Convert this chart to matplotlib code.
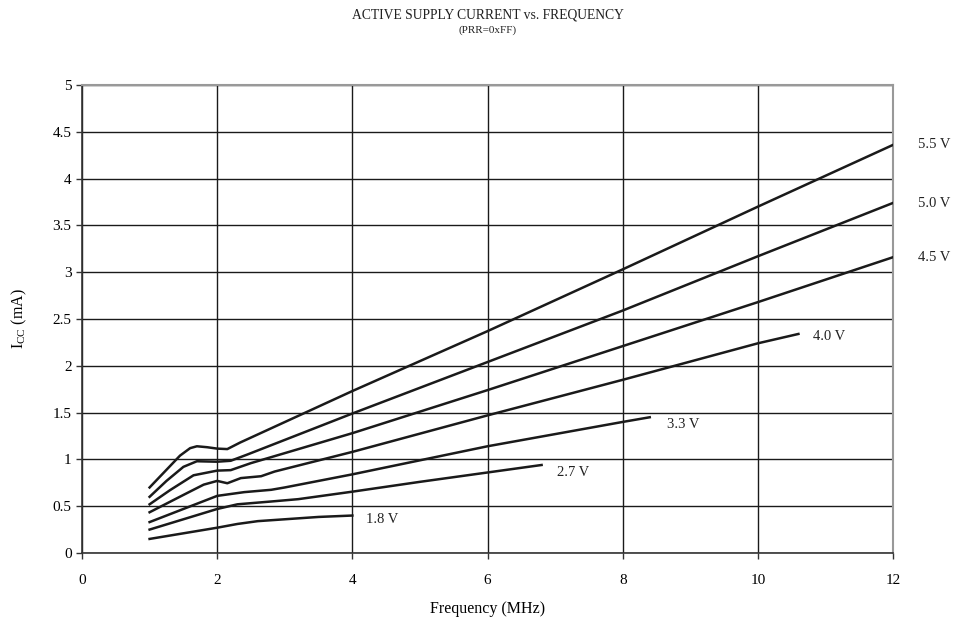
import matplotlib
matplotlib.use('Agg')
import matplotlib.pyplot as plt

plt.rcParams['font.family'] = 'Liberation Serif'
plt.rcParams['mathtext.fontset'] = 'custom'
plt.rcParams['mathtext.rm'] = 'Liberation Serif'

# frequency (MHz) / current (mA), one pair of lists per supply voltage
f_55 = [1.0, 1.45, 1.6, 1.7, 1.85, 2.0, 2.15, 2.34, 4.0, 6.0, 8.0, 10.0, 12.0]
i_55 = [0.70, 1.04, 1.12, 1.14, 1.13, 1.115, 1.11, 1.18, 1.73, 2.37, 3.03, 3.70, 4.36]

f_50 = [1.0, 1.25, 1.5, 1.7, 2.0, 2.2, 2.44, 4.0, 6.0, 8.0, 10.0, 12.0]
i_50 = [0.60, 0.77, 0.92, 0.98, 0.975, 0.985, 1.05, 1.49, 2.04, 2.59, 3.17, 3.74]

f_45 = [1.0, 1.3, 1.65, 2.0, 2.2, 2.5, 4.0, 6.0, 8.0, 10.0, 12.0]
i_45 = [0.52, 0.67, 0.83, 0.88, 0.885, 0.96, 1.28, 1.74, 2.21, 2.68, 3.16]

f_40 = [1.0, 1.5, 1.8, 2.0, 2.15, 2.35, 2.65, 2.85, 4.0, 6.0, 8.0, 10.0, 10.6]
i_40 = [0.435, 0.62, 0.73, 0.77, 0.745, 0.80, 0.82, 0.87, 1.08, 1.47, 1.85, 2.24, 2.34]

f_33 = [1.0, 1.5, 2.0, 2.4, 2.8, 3.0, 4.0, 6.0, 8.0, 8.4]
i_33 = [0.33, 0.47, 0.61, 0.65, 0.675, 0.70, 0.84, 1.14, 1.40, 1.45]

f_27 = [1.0, 1.5, 2.0, 2.3, 2.8, 3.2, 4.0, 5.0, 6.0, 6.8]
i_27 = [0.25, 0.36, 0.47, 0.52, 0.55, 0.575, 0.655, 0.76, 0.86, 0.94]

f_18 = [1.0, 1.5, 2.0, 2.3, 2.6, 3.0, 3.5, 4.0]
i_18 = [0.15, 0.21, 0.27, 0.31, 0.34, 0.36, 0.385, 0.40]

labels = ['5.5 V', '5.0 V', '4.5 V', '4.0 V', '3.3 V', '2.7 V', '1.8 V']
label_x = [12.37, 12.37, 12.37, 10.81, 8.65, 7.03, 4.2]
label_y = [4.36, 3.73, 3.16, 2.31, 1.37, 0.865, 0.36]

curves = [(f_55, i_55), (f_50, i_50), (f_45, i_45), (f_40, i_40),
          (f_33, i_33), (f_27, i_27), (f_18, i_18)]

fig = plt.figure(figsize=(9.58, 6.23), dpi=100)
ax = fig.add_axes([0.0856, 0.1124, 0.8466, 0.7512])

for f, i in curves:
    ax.plot(f, i, color='#1a1a1a', lw=1.8, solid_joinstyle='round', zorder=3)

for lab, x, y in zip(labels, label_x, label_y):
    ax.text(x, y, lab, fontsize=10.5, color='#222222', ha='left', va='center',
            clip_on=False)

ax.set_xlim(0, 12)
ax.set_ylim(0, 5)
ax.set_xticks(range(0, 13, 2))
ax.set_yticks([0, 0.5, 1, 1.5, 2, 2.5, 3, 3.5, 4, 4.5, 5])
ax.set_yticklabels(['0', '0.5', '1', '1.5', '2', '2.5', '3', '3.5', '4', '4.5', '5'])
ax.grid(True, color='#1a1a1a', lw=1.0)
ax.set_axisbelow(True)
ax.tick_params(direction='out', length=4, width=1, labelsize=11, color='#333333')
ax.tick_params(axis='x', pad=11)

for side in ['left', 'bottom']:
    ax.spines[side].set_color('#333333')
    ax.spines[side].set_linewidth(1.2)
for side in ['top', 'right']:
    ax.spines[side].set_color('#999999')
    ax.spines[side].set_linewidth(1.5)

ax.set_xlabel('Frequency (MHz)', fontsize=11.5, labelpad=10)
ax.set_ylabel(r'I$_{\mathregular{CC}}$ (mA)', fontsize=11.5, labelpad=17)

fig.text(0.5089, 0.976, 'ACTIVE SUPPLY CURRENT vs. FREQUENCY', ha='center',
         va='center', fontsize=9.8, color='#222222')
fig.text(0.5089, 0.952, '(PRR=0xFF)', ha='center', va='center', fontsize=8,
         color='#222222')

fig.savefig('out.png', dpi=100)
